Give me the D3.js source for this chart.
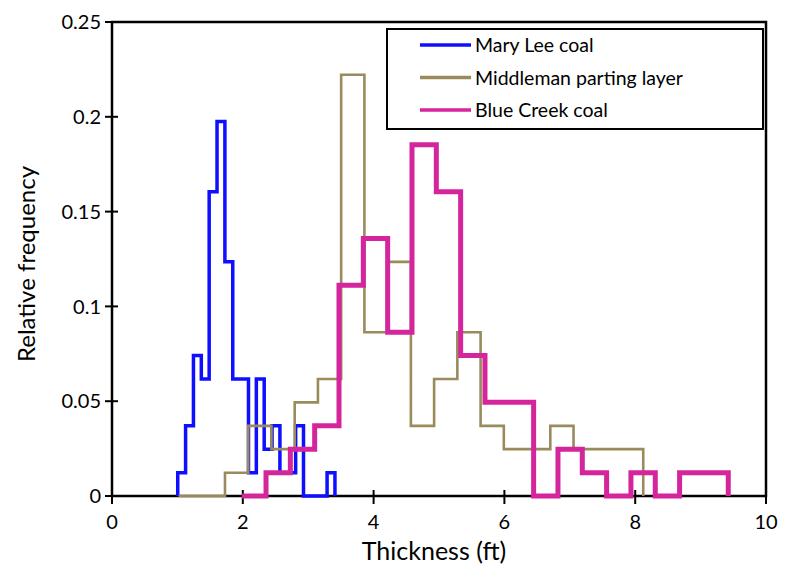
<!DOCTYPE html>
<html>
<head>
<meta charset="utf-8">
<script src="https://cdn.jsdelivr.net/npm/d3@7"></script>
<style>
  body { margin: 0; background: #fff; }
  svg text { font-family: Lato, "Open Sans", sans-serif; fill: #000; }
</style>
</head>
<body>
<svg id="chart" width="785" height="577"></svg>
<script>
// relative frequency per bin (81 samples each)
const seriesNames = ["Mary Lee coal", "Middleman parting layer", "Blue Creek coal"];
const binStarts = [1.005, 1.017, 1.983];
const binWidths = [0.1202, 0.3553, 0.372];

const maryLee = [0.0123, 0.0370, 0.0741, 0.0617, 0.1605, 0.1975, 0.1235, 0.0617, 0.0617, 0.0123,
                 0.0617, 0.0247, 0.0370, 0.0123, 0.0123, 0.0370, 0, 0, 0, 0.0123];
const middleman = [0, 0, 0.0123, 0.0370, 0.0247, 0.0494, 0.0617, 0.2222, 0.0864, 0.1235,
                   0.0370, 0.0617, 0.0864, 0.0370, 0.0247, 0.0247, 0.0370, 0.0247, 0.0247, 0.0247];
const blueCreek = [0, 0.0123, 0.0247, 0.0370, 0.1111, 0.1358, 0.0864, 0.1852, 0.1605, 0.0741,
                   0.0494, 0.0494, 0, 0.0247, 0.0123, 0, 0.0123, 0, 0.0123, 0.0123];

const xTicks = [0, 2, 4, 6, 8, 10];
const yTicks = [0, 0.05, 0.1, 0.15, 0.2, 0.25];

const colors = ["#0f0fff", "#9a8b5c", "#d4259c"];
const widths = [3.5, 2.6, 5];

const svg = d3.select("#chart");
const plotLeft = 112, plotRight = 766, plotTop = 22, plotBottom = 496;

const x = d3.scaleLinear().domain([0, 10]).range([plotLeft, plotRight]);
const y = d3.scaleLinear().domain([0, 0.25]).range([plotBottom, plotTop]);

// histogram outlines
const allValues = [maryLee, middleman, blueCreek];
const line = d3.line()
    .x(d => x(d[0]))
    .y(d => y(d[1]))
    .curve(d3.curveStepAfter);

// frame
svg.append("rect")
    .attr("x", plotLeft).attr("y", plotTop)
    .attr("width", plotRight - plotLeft).attr("height", plotBottom - plotTop)
    .attr("fill", "none").attr("stroke", "#000").attr("stroke-width", 2.5);

// y axis ticks and labels
yTicks.forEach(t => {
    svg.append("line")
        .attr("x1", plotLeft - 7).attr("x2", plotLeft + 6)
        .attr("y1", y(t)).attr("y2", y(t))
        .attr("stroke", "#000").attr("stroke-width", 2);
    svg.append("text")
        .attr("x", plotLeft - 11).attr("y", y(t))
        .attr("dy", "0.36em")
        .attr("text-anchor", "end")
        .style("font-size", "20px")
        .text(t);
});

// x axis ticks and labels
xTicks.forEach(t => {
    svg.append("line")
        .attr("x1", x(t)).attr("x2", x(t))
        .attr("y1", plotBottom - 6).attr("y2", plotBottom + 8)
        .attr("stroke", "#000").attr("stroke-width", 2);
    svg.append("text")
        .attr("x", x(t)).attr("y", 522)
        .attr("dy", "0.36em")
        .attr("text-anchor", "middle")
        .style("font-size", "20px")
        .text(t);
});

allValues.forEach((vals, i) => {
    const pts = [[binStarts[i], 0]];
    vals.forEach((v, k) => pts.push([binStarts[i] + k * binWidths[i], v]));
    const end = binStarts[i] + vals.length * binWidths[i];
    pts.push([end, vals[vals.length - 1]]);
    pts.push([end, 0]);
    svg.append("path")
        .attr("d", line(pts))
        .attr("fill", "none")
        .attr("stroke", colors[i])
        .attr("stroke-width", widths[i])
        .attr("stroke-linejoin", "miter");
});

// axis titles
svg.append("text")
    .attr("x", 434).attr("y", 551)
    .attr("dy", "0.35em")
    .attr("text-anchor", "middle")
    .style("font-size", "25px")
    .text("Thickness (ft)");

svg.append("text")
    .attr("transform", "translate(27,264) rotate(-90)")
    .attr("dy", "0.35em")
    .attr("text-anchor", "middle")
    .style("font-size", "24px")
    .text("Relative frequency");

// legend
const legend = svg.append("g");
legend.append("rect")
    .attr("x", 387).attr("y", 29)
    .attr("width", 376).attr("height", 100)
    .attr("fill", "#fff").attr("stroke", "#000").attr("stroke-width", 2);

seriesNames.forEach((name, i) => {
    const ly = 45 + i * 32.5;
    legend.append("line")
        .attr("x1", 420).attr("x2", 471)
        .attr("y1", ly).attr("y2", ly)
        .attr("stroke", colors[i])
        .attr("stroke-width", 3.5);
    legend.append("text")
        .attr("x", 475).attr("y", ly)
        .attr("dy", "0.36em")
        .style("font-size", "19.5px")
        .text(name);
});
</script>
</body>
</html>
